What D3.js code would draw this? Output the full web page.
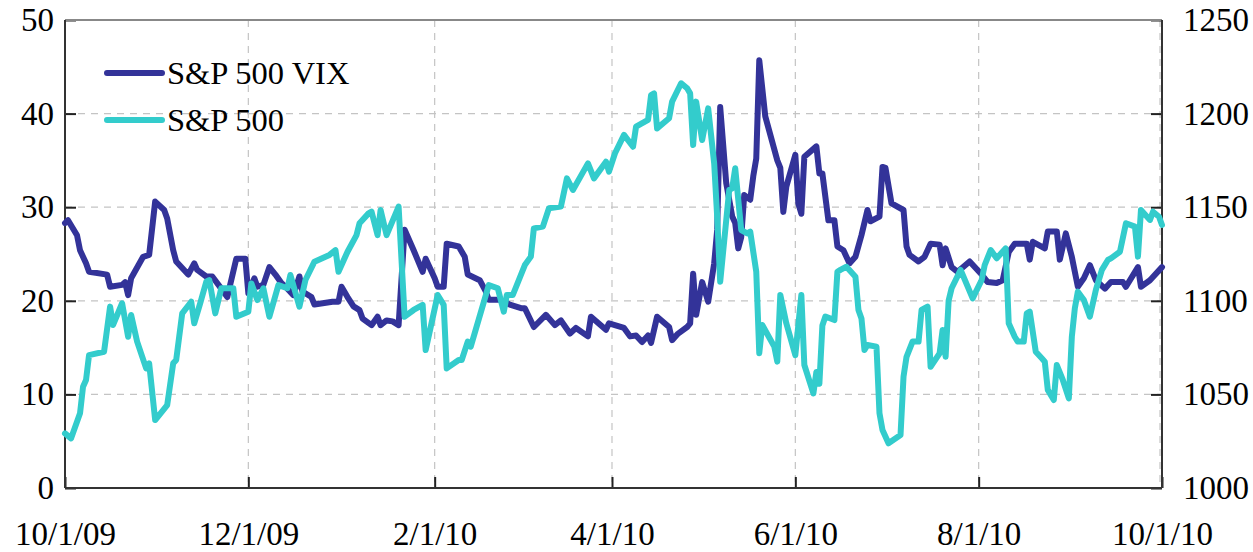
<!DOCTYPE html>
<html>
<head>
<meta charset="utf-8">
<script src="https://cdn.jsdelivr.net/npm/d3@7"></script>
<style>
body { margin: 0; background: #fff; }
text { font-family: "Liberation Serif", "Times New Roman", serif; fill: #000; }
</style>
</head>
<body>
<div id="chart"></div>
<script>
// S&P 500 VIX, left axis
var vix = [
	["2009-10-01",28.3],["2009-10-02",28.6],["2009-10-05",27.0],["2009-10-06",25.4],["2009-10-08",24.0],["2009-10-09",23.1],
	["2009-10-15",22.8],["2009-10-16",21.5],["2009-10-20",21.7],["2009-10-21",22.0],["2009-10-22",20.6],["2009-10-23",22.4],
	["2009-10-27",24.7],["2009-10-29",24.9],["2009-10-31",30.6],["2009-11-03",29.7],["2009-11-04",28.8],["2009-11-06",25.4],
	["2009-11-07",24.2],["2009-11-11",22.8],["2009-11-13",24.0],["2009-11-14",23.3],["2009-11-17",22.6],["2009-11-19",22.6],
	["2009-11-22",21.3],["2009-11-24",20.4],["2009-11-27",24.5],["2009-11-30",24.5],["2009-12-01",20.8],["2009-12-03",22.4],
	["2009-12-04",21.5],["2009-12-06",21.7],["2009-12-08",23.6],["2009-12-10",22.8],["2009-12-12",21.9],["2009-12-14",21.3],
	["2009-12-16",20.6],["2009-12-18",22.6],["2009-12-19",21.0],["2009-12-22",20.4],["2009-12-23",19.6],["2009-12-29",19.9],
	["2009-12-31",19.9],["2010-01-01",21.5],["2010-01-03",20.4],["2010-01-05",19.4],["2010-01-07",19.0],["2010-01-08",18.1],
	["2010-01-11",17.4],["2010-01-13",18.3],["2010-01-14",17.4],["2010-01-16",17.9],["2010-01-18",17.8],["2010-01-20",17.4],
	["2010-01-22",27.6],["2010-01-25",25.4],["2010-01-28",23.1],["2010-01-29",24.5],["2010-02-01",22.4],["2010-02-02",21.5],
	["2010-02-04",21.5],["2010-02-05",26.1],["2010-02-09",25.8],["2010-02-11",24.7],["2010-02-12",22.8],["2010-02-16",22.2],
	["2010-02-18",21.0],["2010-02-19",20.1],["2010-02-23",20.1],["2010-02-26",19.6],["2010-03-02",19.2],["2010-03-03",19.2],
	["2010-03-06",17.2],["2010-03-10",18.5],["2010-03-13",17.4],["2010-03-15",17.9],["2010-03-18",16.5],["2010-03-20",17.1],
	["2010-03-24",16.2],["2010-03-25",18.3],["2010-03-30",16.9],["2010-03-31",17.6],["2010-04-05",17.1],["2010-04-07",16.2],
	["2010-04-09",16.3],["2010-04-11",15.6],["2010-04-13",16.3],["2010-04-14",15.5],["2010-04-16",18.3],["2010-04-20",17.2],
	["2010-04-21",15.8],["2010-04-23",16.5],["2010-04-26",17.2],["2010-04-27",17.6],["2010-04-28",22.9],["2010-04-29",18.5],
	["2010-05-01",22.0],["2010-05-03",19.9],["2010-05-05",24.0],["2010-05-06",27.6],["2010-05-07",40.7],["2010-05-09",32.6],
	["2010-05-11",29.0],["2010-05-12",28.3],["2010-05-13",25.6],["2010-05-14",26.8],["2010-05-15",31.3],["2010-05-17",30.8],
	["2010-05-18",33.3],["2010-05-19",35.2],["2010-05-20",45.7],["2010-05-22",39.7],["2010-05-26",35.0],["2010-05-27",34.2],
	["2010-05-28",29.5],["2010-05-29",32.2],["2010-06-01",35.6],["2010-06-02",30.4],["2010-06-03",29.3],["2010-06-04",35.4],
	["2010-06-08",36.5],["2010-06-09",33.6],["2010-06-10",33.6],["2010-06-12",28.6],["2010-06-14",28.6],["2010-06-15",25.8],
	["2010-06-17",25.4],["2010-06-19",24.0],["2010-06-21",24.7],["2010-06-23",27.0],["2010-06-25",29.7],["2010-06-26",28.5],
	["2010-06-29",29.0],["2010-06-30",34.3],["2010-07-01",34.2],["2010-07-03",30.4],["2010-07-07",29.7],["2010-07-08",25.8],
	["2010-07-09",24.9],["2010-07-12",24.2],["2010-07-14",24.7],["2010-07-16",26.1],["2010-07-19",26.0],["2010-07-20",23.8],
	["2010-07-21",25.6],["2010-07-23",23.6],["2010-07-25",23.1],["2010-07-29",24.2],["2010-08-02",22.8],["2010-08-04",22.0],
	["2010-08-07",21.9],["2010-08-09",22.2],["2010-08-11",25.2],["2010-08-13",26.1],["2010-08-17",26.1],["2010-08-18",24.4],
	["2010-08-19",26.3],["2010-08-23",25.6],["2010-08-24",27.4],["2010-08-27",27.4],["2010-08-28",24.4],["2010-08-30",27.2],
	["2010-09-01",24.7],["2010-09-03",21.5],["2010-09-05",22.4],["2010-09-07",23.8],["2010-09-09",22.2],["2010-09-12",21.3],
	["2010-09-14",22.0],["2010-09-18",22.0],["2010-09-19",21.5],["2010-09-23",23.6],["2010-09-24",21.5],["2010-09-27",22.2],
	["2010-10-01",23.6]
];

// S&P 500, right axis
var spx = [
	["2009-10-01",1029.2],["2009-10-03",1026.5],["2009-10-06",1039.9],["2009-10-07",1054.1],["2009-10-08",1057.7],["2009-10-09",1071.0],
	["2009-10-14",1072.8],["2009-10-16",1096.9],["2009-10-17",1087.1],["2009-10-20",1098.7],["2009-10-22",1080.8],["2009-10-23",1092.4],
	["2009-10-25",1078.2],["2009-10-28",1063.9],["2009-10-29",1066.6],["2009-10-31",1036.3],["2009-11-04",1044.3],["2009-11-06",1066.6],
	["2009-11-07",1068.4],["2009-11-09",1093.3],["2009-11-12",1099.5],["2009-11-13",1088.0],["2009-11-15",1098.7],["2009-11-17",1110.2],
	["2009-11-18",1111.1],["2009-11-20",1093.3],["2009-11-22",1106.7],["2009-11-26",1106.7],["2009-11-27",1091.5],["2009-12-01",1094.2],
	["2009-12-02",1109.3],["2009-12-04",1100.4],["2009-12-06",1106.7],["2009-12-08",1091.5],["2009-12-11",1108.4],["2009-12-14",1106.7],
	["2009-12-15",1113.8],["2009-12-18",1096.9],["2009-12-20",1111.1],["2009-12-23",1120.9],["2009-12-28",1124.5],["2009-12-30",1127.1],
	["2009-12-31",1115.5],["2010-01-03",1126.2],["2010-01-06",1135.1],["2010-01-07",1141.4],["2010-01-10",1146.7],["2010-01-11",1147.6],
	["2010-01-13",1135.1],["2010-01-14",1148.5],["2010-01-16",1135.1],["2010-01-20",1150.3],["2010-01-22",1091.5],["2010-01-25",1095.1],
	["2010-01-28",1097.8],["2010-01-29",1073.7],["2010-02-02",1103.1],["2010-02-04",1097.8],["2010-02-05",1063.9],["2010-02-09",1068.4],
	["2010-02-10",1068.4],["2010-02-12",1078.2],["2010-02-13",1075.5],["2010-02-19",1108.4],["2010-02-22",1106.7],["2010-02-24",1094.2],
	["2010-02-25",1103.1],["2010-02-27",1103.1],["2010-03-03",1119.1],["2010-03-05",1123.6],["2010-03-06",1138.7],["2010-03-09",1139.6],
	["2010-03-11",1149.4],["2010-03-15",1150.3],["2010-03-17",1165.4],["2010-03-19",1159.2],["2010-03-24",1173.4],["2010-03-26",1165.4],
	["2010-03-30",1174.3],["2010-03-31",1169.0],["2010-04-02",1178.8],["2010-04-05",1188.6],["2010-04-08",1182.3],["2010-04-09",1193.0],
	["2010-04-13",1196.6],["2010-04-14",1209.9],["2010-04-15",1210.8],["2010-04-16",1192.1],["2010-04-20",1197.5],["2010-04-21",1206.4],
	["2010-04-24",1216.2],["2010-04-26",1213.5],["2010-04-27",1210.8],["2010-04-28",1183.2],["2010-04-29",1206.4],["2010-05-01",1185.9],
	["2010-05-03",1202.8],["2010-05-05",1173.4],["2010-05-06",1144.9],["2010-05-07",1110.2],["2010-05-10",1159.2],["2010-05-11",1160.1],
	["2010-05-12",1170.8],["2010-05-14",1137.8],["2010-05-16",1136.0],["2010-05-17",1136.9],["2010-05-19",1115.5],["2010-05-20",1072.0],
	["2010-05-21",1087.1],["2010-05-25",1075.5],["2010-05-26",1067.5],["2010-05-27",1103.1],["2010-05-29",1088.0],["2010-06-01",1071.0],
	["2010-06-03",1103.1],["2010-06-04",1065.7],["2010-06-07",1050.5],["2010-06-08",1062.0],["2010-06-09",1055.7],["2010-06-10",1086.8],
	["2010-06-11",1091.6],["2010-06-14",1089.7],["2010-06-15",1115.5],["2010-06-16",1116.5],["2010-06-18",1118.2],["2010-06-21",1112.9],
	["2010-06-22",1095.1],["2010-06-23",1090.6],["2010-06-24",1073.7],["2010-06-25",1076.4],["2010-06-28",1075.5],["2010-06-29",1039.9],
	["2010-06-30",1031.0],["2010-07-02",1023.9],["2010-07-06",1028.3],["2010-07-07",1059.5],["2010-07-08",1070.1],["2010-07-10",1078.2],
	["2010-07-12",1078.2],["2010-07-13",1095.1],["2010-07-15",1096.9],["2010-07-16",1064.8],["2010-07-19",1071.9],["2010-07-20",1084.4],
	["2010-07-21",1070.1],["2010-07-22",1100.0],["2010-07-23",1106.7],["2010-07-26",1116.5],["2010-07-30",1101.3],["2010-08-02",1111.1],
	["2010-08-03",1119.1],["2010-08-05",1127.1],["2010-08-07",1122.7],["2010-08-10",1128.0],["2010-08-11",1088.0],["2010-08-13",1080.8],
	["2010-08-14",1078.2],["2010-08-16",1078.2],["2010-08-17",1093.3],["2010-08-18",1094.2],["2010-08-20",1072.8],["2010-08-22",1069.3],
	["2010-08-23",1067.5],["2010-08-24",1052.4],["2010-08-26",1047.0],["2010-08-27",1065.7],["2010-08-29",1057.7],["2010-08-31",1047.9],
	["2010-09-01",1080.8],["2010-09-02",1096.0],["2010-09-03",1104.9],["2010-09-05",1100.4],["2010-09-07",1091.5],["2010-09-09",1105.8],
	["2010-09-11",1116.5],["2010-09-13",1121.8],["2010-09-14",1122.7],["2010-09-17",1126.2],["2010-09-19",1141.4],["2010-09-22",1139.6],
	["2010-09-23",1123.6],["2010-09-24",1148.5],["2010-09-27",1143.2],["2010-09-28",1147.6],["2010-09-30",1144.9],["2010-10-01",1140.5]
];

var seriesNames = ["S&P 500 VIX", "S&P 500"];
var dateTicks = ["2009-10-01", "2009-12-01", "2010-02-01", "2010-04-01", "2010-06-01", "2010-08-01", "2010-10-01"];
var leftTicks = [0, 10, 20, 30, 40, 50];
var rightTicks = [1000, 1050, 1100, 1150, 1200, 1250];

var outerWidth = 1253, outerHeight = 552;
var margin = { top: 20, right: 91, bottom: 64, left: 65 },
	width = outerWidth - margin.left - margin.right,
	height = outerHeight - margin.top - margin.bottom;
var colVix = "#333399", colSpx = "#33cccc";
var fontSize = "33px";
var parse = d3.timeParse("%Y-%m-%d");
var fmt = d3.timeFormat("%-m/%-d/%y");

var svg = d3.select("#chart").append("svg")
	.attr("width", outerWidth)
	.attr("height", outerHeight)
	.append("g").attr("transform", "translate(" + margin.left + "," + margin.top + ")");

var x = d3.scaleTime()
	.domain([parse(dateTicks[0]), parse(dateTicks[dateTicks.length - 1])])
	.range([0, width]);
var yL = d3.scaleLinear().domain([0, 50]).range([height, 0]);
var yR = d3.scaleLinear().domain([1000, 1250]).range([height, 0]);

//grid
var grid = svg.append("g").attr("class", "grid");
grid.selectAll(".hg").data(leftTicks.slice(1, -1)).enter().append("line")
	.attr("x1", 0).attr("x2", width)
	.attr("y1", function (d) { return yL(d); })
	.attr("y2", function (d) { return yL(d); })
	.attr("stroke", "#c4c4c4").attr("stroke-width", 1.2).attr("stroke-dasharray", "7,6");
grid.selectAll(".vg").data(dateTicks.slice(1)).enter().append("line")
	.attr("x1", function (d) { return x(parse(d)) - (d == dateTicks[dateTicks.length - 1] ? 2 : 0); })
	.attr("x2", function (d) { return x(parse(d)) - (d == dateTicks[dateTicks.length - 1] ? 2 : 0); })
	.attr("y1", 0).attr("y2", height)
	.attr("stroke", "#c4c4c4").attr("stroke-width", 1.2).attr("stroke-dasharray", "7,6");

//axes
var xAxis = d3.axisBottom(x)
	.tickValues(dateTicks.map(parse))
	.tickFormat(fmt)
	.tickSize(-11)
	.tickPadding(34);
var gx = svg.append("g").attr("transform", "translate(0," + height + ")").call(xAxis);

var leftAxis = d3.axisLeft(yL).tickValues(leftTicks).tickSize(-11).tickPadding(11);
var gl = svg.append("g").call(leftAxis);

var rightAxis = d3.axisRight(yR).tickValues(rightTicks).tickFormat(d3.format("d")).tickSize(-11).tickPadding(21);
var gr = svg.append("g").attr("transform", "translate(" + width + ",0)").call(rightAxis);

[gx, gl, gr].forEach(function (g) {
	g.select(".domain").remove();
	g.selectAll(".tick line").attr("stroke", "#222").attr("stroke-width", 2);
	g.selectAll(".tick text").style("font-size", fontSize).attr("fill", "#000")
		.style("font-family", "'Liberation Serif', 'Times New Roman', serif");
});
gx.selectAll(".tick text").attr("dy", "0.71em");

//frame
svg.append("line").attr("x1", 0).attr("x2", width).attr("y1", 0).attr("y2", 0)
	.attr("stroke", "#888").attr("stroke-width", 2);
svg.append("line").attr("x1", 0).attr("x2", 0).attr("y1", 0).attr("y2", height)
	.attr("stroke", "#333").attr("stroke-width", 2);
svg.append("line").attr("x1", width).attr("x2", width).attr("y1", 0).attr("y2", height)
	.attr("stroke", "#333").attr("stroke-width", 2);
svg.append("line").attr("x1", 0).attr("x2", width).attr("y1", height).attr("y2", height)
	.attr("stroke", "#333").attr("stroke-width", 2);

//lines
var lineL = d3.line()
	.x(function (d) { return x(parse(d[0])); })
	.y(function (d) { return yL(d[1]); });
var lineR = d3.line()
	.x(function (d) { return x(parse(d[0])); })
	.y(function (d) { return yR(d[1]); });

svg.append("path").datum(vix)
	.attr("d", lineL)
	.attr("fill", "none").attr("stroke", colVix)
	.attr("stroke-width", 6).attr("stroke-linejoin", "round").attr("stroke-linecap", "round");
svg.append("path").datum(spx)
	.attr("d", lineR)
	.attr("fill", "none").attr("stroke", colSpx)
	.attr("stroke-width", 6).attr("stroke-linejoin", "round").attr("stroke-linecap", "round");

//legend
var legend = svg.append("g").attr("transform", "translate(42,53)");
var kleuren = [colVix, colSpx];
seriesNames.forEach(function (name, i) {
	legend.append("line")
		.attr("x1", 0).attr("x2", 55)
		.attr("y1", i * 47).attr("y2", i * 47)
		.attr("stroke", kleuren[i]).attr("stroke-width", 6).attr("stroke-linecap", "round");
	legend.append("text")
		.attr("x", 60).attr("y", i * 47 + 11)
		.style("font-size", "32.5px")
		.text(name);
});
</script>
</body>
</html>
